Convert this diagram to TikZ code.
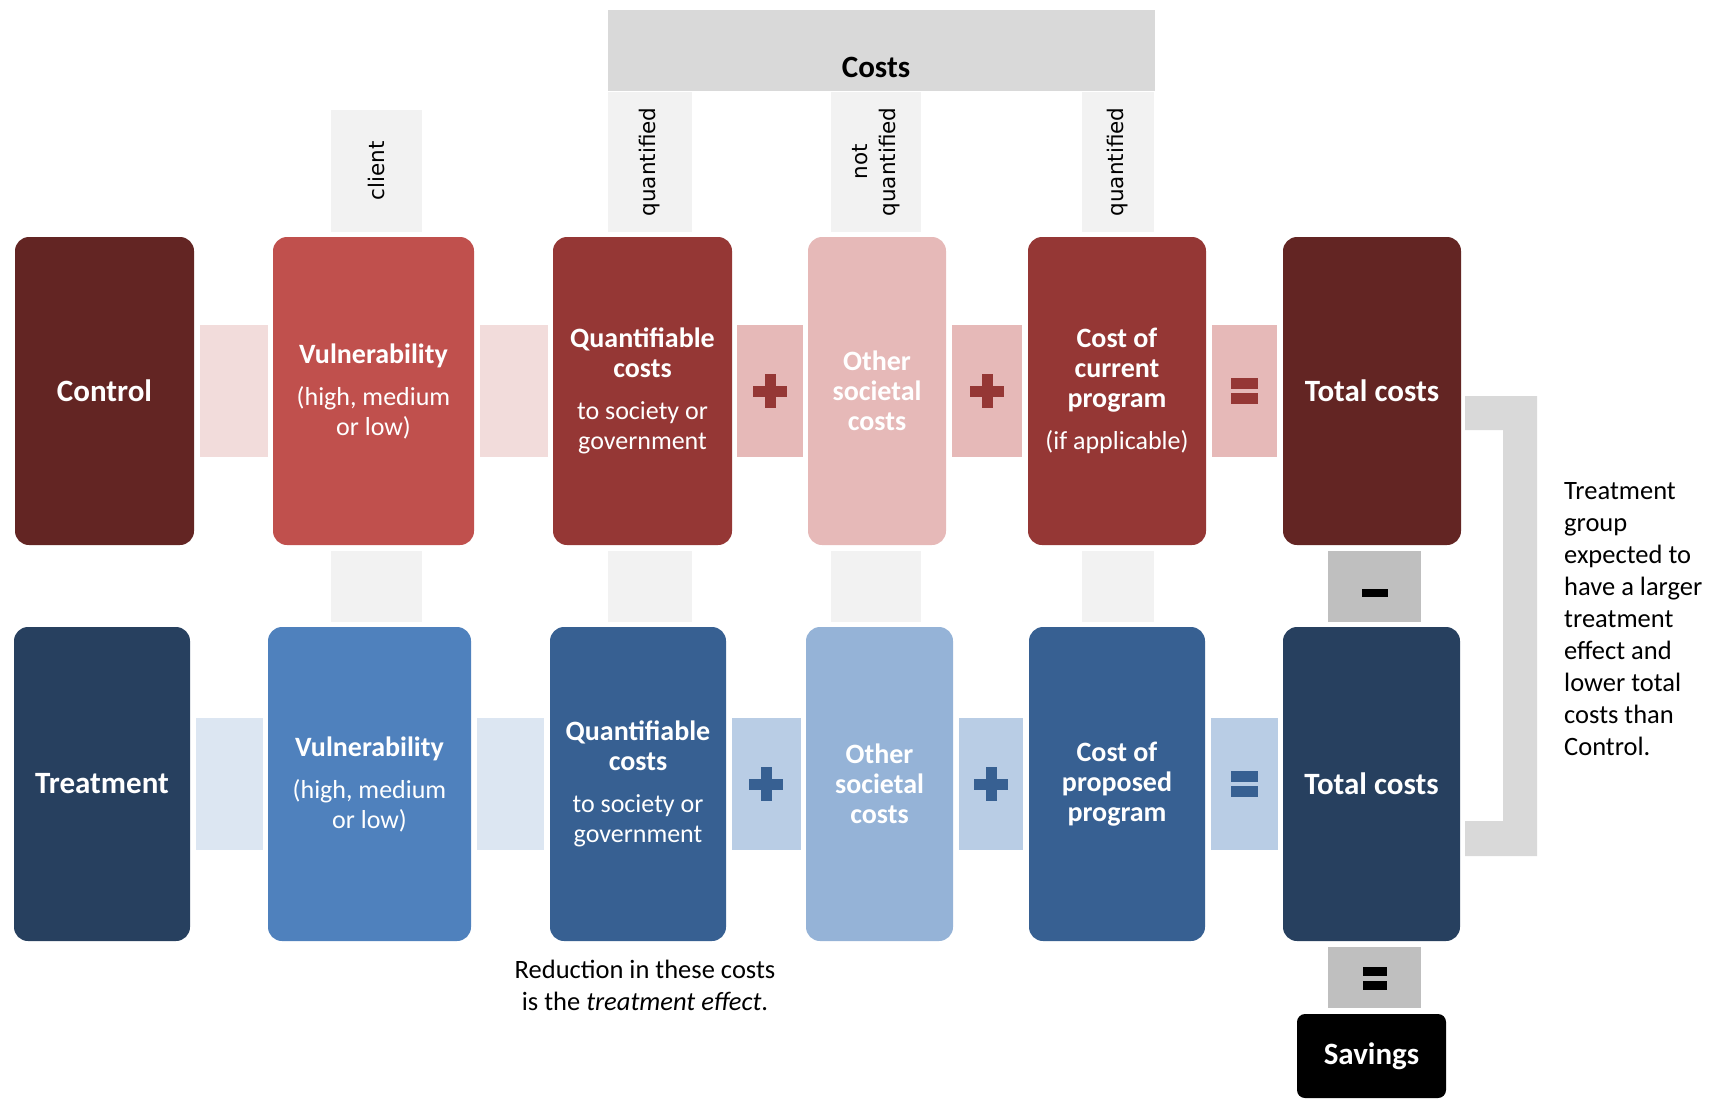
\documentclass[tikz,border=0pt]{standalone}
\usepackage{fontspec}
\setmainfont{Carlito}
\newfontfamily\tagfont{DejaVu Sans}
\usetikzlibrary{calc,positioning}
\definecolor{cbdarkred}{HTML}{632523}
\definecolor{cbred}{HTML}{C0504D}
\definecolor{cbmidred}{HTML}{953735}
\definecolor{cbpink}{HTML}{E6B9B8}
\definecolor{cbpinkpale}{HTML}{F2DCDB}
\definecolor{cbdarkblue}{HTML}{27405F}
\definecolor{cbblue}{HTML}{4F81BD}
\definecolor{cbmidblue}{HTML}{376092}
\definecolor{cbsky}{HTML}{95B3D7}
\definecolor{cbskypale}{HTML}{DCE6F2}
\definecolor{cbskyjoint}{HTML}{B9CDE5}
\definecolor{cbtag}{HTML}{F2F2F2}
\definecolor{cbhead}{HTML}{D9D9D9}
\definecolor{cbop}{HTML}{BFBFBF}
\tikzset{
  cb box/.style={rounded corners=14pt, inner sep=0pt, align=center, text=white,
    font=\fontsize{28}{30}\selectfont\bfseries},
  cb title/.style={cb box, font=\fontsize{31}{34}\selectfont\bfseries},
  cb joint/.style={inner sep=0pt, minimum height=132pt},
  cb tag/.style={fill=cbtag, inner sep=0pt, rotate=90, align=center,
    font=\tagfont\fontsize{21.5}{28}\selectfont},
  cb gap/.style={fill=cbtag, inner sep=0pt, minimum height=71pt},
  cb op/.style={fill=cbop, inner sep=0pt, minimum width=93pt},
  cb note/.style={font=\fontsize{26.5}{32}\selectfont, text=black, inner sep=0pt}
}
\newcommand\cbsub[1]{{\fontsize{26}{30}\selectfont\mdseries #1}}
% plus and equal marks, centred on a joint
\newcommand\cbplus[2]{%
  \fill[#2] ($(#1)+(-17,-5.5)$) rectangle ($(#1)+(17,5.5)$);
  \fill[#2] ($(#1)+(-5.5,-17)$) rectangle ($(#1)+(5.5,17)$);}
\newcommand\cbequal[2]{%
  \fill[#2] ($(#1)+(-13.5,-13)$) rectangle ($(#1)+(13.5,-2)$);
  \fill[#2] ($(#1)+(-13.5,2)$) rectangle ($(#1)+(13.5,13)$);}

\begin{document}
\begin{tikzpicture}[x=1pt, y=-1pt]
  \useasboundingbox (0,0) rectangle (1715,1098);

  % header
  \node[fill=cbhead, inner sep=0pt, minimum width=547pt, minimum height=81pt] (costs) at (881.5,50.5) {};
  \node[font=\fontsize{31}{34}\selectfont\bfseries, anchor=base] (costslbl) at (876,77) {Costs};
  \node[cb tag, minimum width=122pt, minimum height=91pt] (tclient) at (376.5,171) {client};
  \node[cb tag, minimum width=140pt, minimum height=84pt] (tquant) at (650,162) {quantified};
  \node[cb tag, minimum width=140pt, minimum height=90pt] (tnot) at (876,162) {not\\quantified};
  \node[cb tag, minimum width=140pt, minimum height=72pt] (tcur) at (1118,162) {quantified};

  % control row
  \node[cb title, fill=cbdarkred, minimum width=179pt, minimum height=308pt] (ctlA) at (104.5,391) {Control};
  \node[cb box, fill=cbred, minimum width=201pt, minimum height=308pt] (vulA) at (373.5,391)
    {Vulnerability\\[12pt]\cbsub{(high, medium}\\\cbsub{or low)}};
  \node[cb box, fill=cbmidred, minimum width=179pt, minimum height=308pt] (quaA) at (642.5,391)
    {Quantifiable\\costs\\[12pt]\cbsub{to society or}\\\cbsub{government}};
  \node[cb box, fill=cbpink, minimum width=138pt, minimum height=308pt] (othA) at (877,391)
    {Other\\societal\\costs};
  \node[cb box, fill=cbmidred, minimum width=178pt, minimum height=308pt] (curA) at (1117,391)
    {Cost of\\current\\program\\[12pt]\cbsub{(if applicable)}};
  \node[cb title, fill=cbdarkred, minimum width=178pt, minimum height=308pt] (totA) at (1372,391) {Total costs};

  \node[cb joint, fill=cbpinkpale, minimum width=68pt] (j1A) at ($(ctlA.east)!0.5!(vulA.west)$) {};
  \node[cb joint, fill=cbpinkpale, minimum width=68pt] (j2A) at ($(vulA.east)!0.5!(quaA.west)$) {};
  \node[cb joint, fill=cbpink, minimum width=66pt] (j3A) at ($(quaA.east)!0.5!(othA.west)$) {};
  \node[cb joint, fill=cbpink, minimum width=70pt] (j4A) at ($(othA.east)!0.5!(curA.west)$) {};
  \node[cb joint, fill=cbpink, minimum width=65pt] (j5A) at ($(curA.east)!0.5!(totA.west)$) {};
  \cbplus{j3A}{cbmidred}
  \cbplus{j4A}{cbmidred}
  \cbequal{j5A}{cbmidred}

  % gaps between the rows
  \node[cb gap, minimum width=91pt] (gvul) at (376.5,586.5) {};
  \node[cb gap, minimum width=84pt] (gqua) at (650,586.5) {};
  \node[cb gap, minimum width=90pt] (goth) at (876,586.5) {};
  \node[cb gap, minimum width=72pt] (gcur) at (1118,586.5) {};
  \node[cb op, minimum height=71pt] (minus) at (1374.5,586.5) {};
  \fill[black] ($(minus)+(-13,2)$) rectangle ($(minus)+(13,10)$);

  % treatment row
  \node[cb title, fill=cbdarkblue, minimum width=176pt, minimum height=314pt] (trtB) at (102,784) {Treatment};
  \node[cb box, fill=cbblue, minimum width=203pt, minimum height=314pt] (vulB) at (369.5,784)
    {Vulnerability\\[12pt]\cbsub{(high, medium}\\\cbsub{or low)}};
  \node[cb box, fill=cbmidblue, minimum width=176pt, minimum height=314pt] (quaB) at (638,784)
    {Quantifiable\\costs\\[12pt]\cbsub{to society or}\\\cbsub{government}};
  \node[cb box, fill=cbsky, minimum width=147pt, minimum height=314pt] (othB) at (879.5,784)
    {Other\\societal\\costs};
  \node[cb box, fill=cbmidblue, minimum width=176pt, minimum height=314pt] (proB) at (1117,784)
    {Cost of\\proposed\\program};
  \node[cb title, fill=cbdarkblue, minimum width=177pt, minimum height=314pt] (totB) at (1371.5,784) {Total costs};

  \node[cb joint, fill=cbskypale, minimum width=67pt] (j1B) at ($(trtB.east)!0.5!(vulB.west)$) {};
  \node[cb joint, fill=cbskypale, minimum width=67pt] (j2B) at ($(vulB.east)!0.5!(quaB.west)$) {};
  \node[cb joint, fill=cbskyjoint, minimum width=69pt] (j3B) at ($(quaB.east)!0.5!(othB.west)$) {};
  \node[cb joint, fill=cbskyjoint, minimum width=64pt] (j4B) at ($(othB.east)!0.5!(proB.west)$) {};
  \node[cb joint, fill=cbskyjoint, minimum width=67pt] (j5B) at ($(proB.east)!0.5!(totB.west)$) {};
  \cbplus{j3B}{cbmidblue}
  \cbplus{j4B}{cbmidblue}
  \cbequal{j5B}{cbmidblue}

  % savings
  \node[cb op, minimum height=61pt] (eqop) at (1374.5,977.5) {};
  \fill[black] ($(eqop)+(-12,-10.5)$) rectangle ($(eqop)+(12,-1.5)$);
  \fill[black] ($(eqop)+(-12,3.5)$) rectangle ($(eqop)+(12,12.5)$);
  \node[cb title, fill=black, rounded corners=8pt, minimum width=149pt, minimum height=84pt] (save) at (1371.5,1056) {Savings};

  % bracket and notes
  \fill[cbhead] (1465,396) -- (1537,396) -- (1537,856) -- (1465,856) -- (1465,821)
    -- (1503,821) -- (1503,430) -- (1465,430) -- cycle;
  \node[cb note, anchor=base west, align=left] (why) at (1564,755)
    {Treatment\\group\\expected to\\have a larger\\treatment\\effect and\\lower total\\costs than\\Control.};
  \node[cb note, anchor=base, align=center] (effect) at (645,1010)
    {Reduction in these costs\\is the \textit{treatment effect}.};
\end{tikzpicture}
\end{document}
